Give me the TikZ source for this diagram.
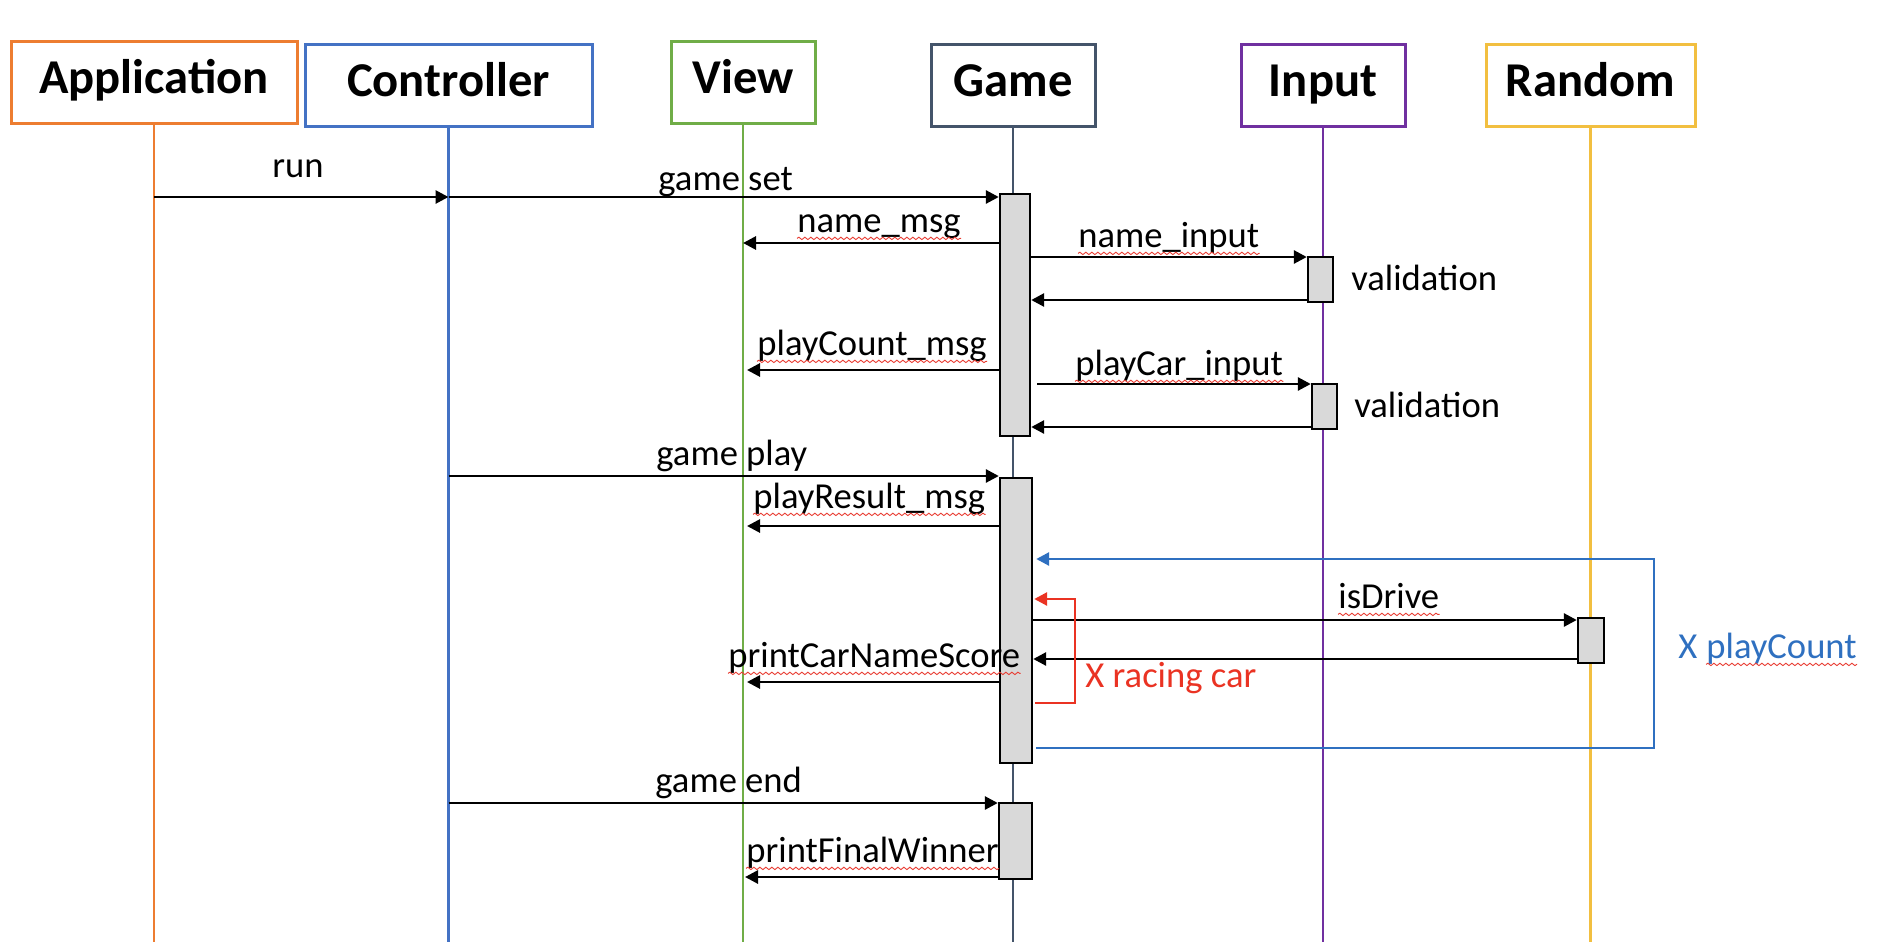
\documentclass[tikz,border=0pt]{standalone}
\usepackage{fontspec}
\setmainfont{Carlito}
\usetikzlibrary{arrows.meta,decorations.pathmorphing}

\definecolor{appcol}{HTML}{ED7D31}
\definecolor{ctrlcol}{HTML}{4472C4}
\definecolor{viewcol}{HTML}{70AD47}
\definecolor{gamecol}{HTML}{44546A}
\definecolor{inputcol}{HTML}{7030A0}
\definecolor{randcol}{HTML}{F2BF40}
\definecolor{loopblue}{HTML}{2F70C0}
\definecolor{loopred}{HTML}{EA3323}
\definecolor{actgray}{HTML}{D9D9D9}

\tikzset{
	actor/.style={draw, line width=1.5pt, fill=white, inner sep=0pt, minimum height=41pt, text height=17pt, text depth=6pt, font=\fontsize{24.3}{28}\selectfont\bfseries},
	lifeline/.style={line width=1.3pt},
	act/.style={draw, line width=1.2pt, fill=actgray, inner sep=0pt},
	msg/.style={line width=1.4pt, -{Triangle[length=6.5pt,width=6.5pt]}},
	lbl/.style={inner sep=0pt, anchor=base west, font=\fontsize{18.3}{22}\selectfont},
	spell/.style={draw={rgb,255:red,232;green,60;blue,50}, line width=0.45pt, decorate, decoration={snake, amplitude=0.6pt, segment length=3pt}},
}

\begin{document}
\begin{tikzpicture}[x=0.5pt, y=-0.5pt]
	\useasboundingbox (0,0) rectangle (1888,942);

	% participants
	\node[actor, draw=appcol, minimum width=143pt] (app) at (154,82.5) {Application};
	\node[actor, draw=ctrlcol, minimum width=143.5pt] (ctrl) at (448.5,85) {Controller};
	\node[actor, draw=viewcol, minimum width=72pt] (view) at (743,82) {View};
	\node[actor, draw=gamecol, minimum width=82pt] (game) at (1013,85) {Game};
	\node[actor, draw=inputcol, minimum width=82pt] (input) at (1323,85) {Input};
	\node[actor, draw=randcol, minimum width=104.5pt] (rand) at (1590.5,85) {Random};

	% lifelines
	\draw[lifeline, appcol] (app.south) -- (app.south |- 0,942);
	\draw[lifeline, ctrlcol] (ctrl.south) -- (ctrl.south |- 0,942);
	\draw[lifeline, viewcol] (view.south) -- (view.south |- 0,942);
	\draw[lifeline, gamecol] (game.south) -- (game.south |- 0,942);
	\draw[lifeline, inputcol] (input.south) -- (input.south |- 0,942);
	\draw[lifeline, randcol] (rand.south) -- (rand.south |- 0,942);

	% activations
	\node[act, minimum width=15pt, minimum height=121pt] (gact1) at (1015,315) {};
	\node[act, minimum width=12.5pt, minimum height=22.5pt] (iact1) at (1320.5,279.5) {};
	\node[act, minimum width=12.5pt, minimum height=22.5pt] (iact2) at (1324.5,406.5) {};
	\node[act, minimum width=16pt, minimum height=142.5pt] (gact2) at (1016,620.5) {};
	\node[act, minimum width=13pt, minimum height=22.5pt] (ract) at (1591,640.5) {};
	\node[act, minimum width=16.5pt, minimum height=38pt] (gact3) at (1015.5,841) {};

	% messages
	\draw[msg] (app |- 0,197) -- (ctrl |- 0,197);
	\draw[msg] (ctrl |- 0,197) -- (gact1.west |- 0,197);
	\draw[msg] (gact1.west |- 0,243) -- (view |- 0,243);
	\draw[msg] (gact1.east |- 0,257) -- (iact1.west |- 0,257);
	\draw[msg] (iact1.west |- 0,300) -- (gact1.east |- 0,300);
	\draw[msg] (gact1.west |- 0,370) -- ([xshift=2pt]view |- 0,370);
	\draw[msg] ([xshift=3pt]gact1.east |- 0,384) -- (iact2.west |- 0,384);
	\draw[msg] (iact2.west |- 0,427) -- (gact1.east |- 0,427);
	\draw[msg] (ctrl |- 0,476) -- (gact2.west |- 0,476);
	\draw[msg] (gact2.west |- 0,526) -- ([xshift=2pt]view |- 0,526);
	\draw[msg] (gact2.east |- 0,620) -- (ract.west |- 0,620);
	\draw[msg] (ract.west |- 0,659) -- (gact2.east |- 0,659);
	\draw[msg] (gact2.west |- 0,682) -- ([xshift=2pt]view |- 0,682);
	\draw[msg] (ctrl |- 0,803) -- (gact3.west |- 0,803);
	\draw[msg] (gact3.west |- 0,877) -- ([xshift=1pt]view |- 0,877);

	% loops
	\coordinate (bluecorner) at (1654,559);
	\coordinate (redcorner) at (1075,599);
	\draw[msg, loopblue] ([xshift=1.5pt]gact2.east |- 0,748) -| (bluecorner) -- ([xshift=1.5pt]gact2.east |- bluecorner);
	\draw[msg, loopred] ([xshift=1pt]gact2.east |- 0,703) -| (redcorner) -- ([xshift=0.5pt]gact2.east |- redcorner);

	% labels
	\node[lbl] (lrun) at (272,177) {run};
	\node[lbl] (lgameset) at (658,190) {game set};
	\node[lbl] (lnamemsg) at (797,232) {name\_msg};
	\node[lbl] (lnameinput) at (1078,247) {name\_input};
	\node[lbl] (lvalid1) at (1351,290) {validation};
	\node[lbl] (lplaycountmsg) at (757,355) {playCount\_msg};
	\node[lbl] (lplaycarinput) at (1075,375) {playCar\_input};
	\node[lbl] (lvalid2) at (1354,417) {validation};
	\node[lbl] (lgameplay) at (656,465) {game play};
	\node[lbl] (lplayresultmsg) at (753,508) {playResult\_msg};
	\node[lbl] (lisdrive) at (1338,608) {isDrive};
	\node[lbl] (lprintscore) at (728,667) {printCarNameScore};
	\node[lbl, text=loopred] (lracing) at (1085,687) {X racing car};
	\node[lbl, text=loopblue] (lx) at (1678,658) {X};
	\node[lbl, text=loopblue] (lpc) at ([xshift=4.1pt]lx.base east) {playCount};
	\node[lbl] (lgameend) at (655,792) {game end};
	\node[lbl] (lprintwinner) at (746,862) {printFinalWinner};

	% spell check marks
	\foreach \w in {lnamemsg,lnameinput,lplaycountmsg,lplaycarinput,lplayresultmsg,lisdrive,lprintscore,lpc,lprintwinner}
		\draw[spell] ([yshift=-3.2pt]\w.base west) -- ([yshift=-3.2pt]\w.base east);
\end{tikzpicture}
\end{document}
